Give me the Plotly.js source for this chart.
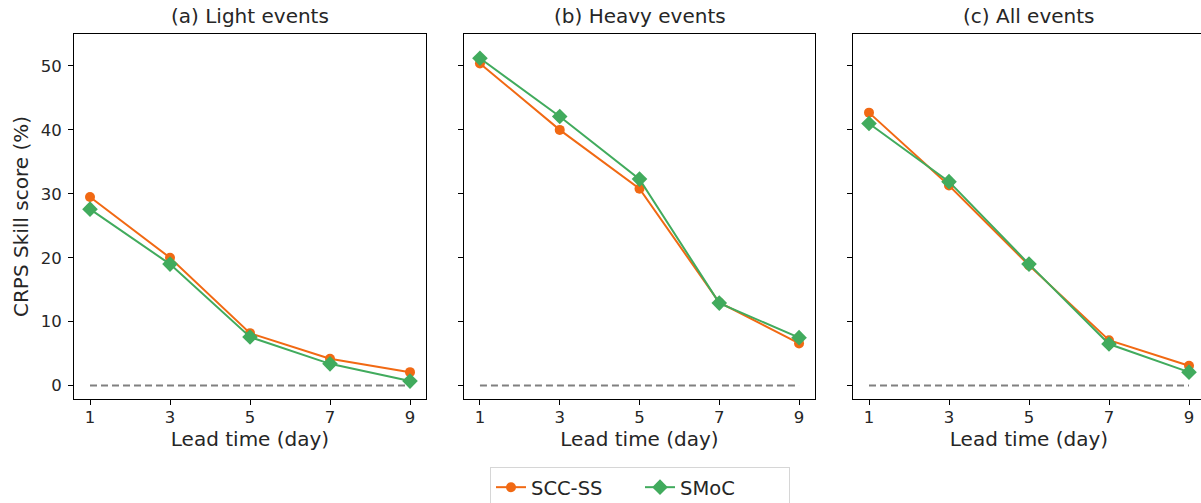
<!DOCTYPE html>
<html>
<head>
<meta charset="utf-8">
<script src="https://cdn.plot.ly/plotly-3.0.1.min.js"></script>
<style>
html,body{margin:0;padding:0;overflow:hidden;background:#fff;width:1201px;height:503px;}
#chart{width:1210px;height:503px;}
</style>
</head>
<body>
<div id="chart"></div>
<script>
const leadTimes = [1, 3, 5, 7, 9];
const panelTitles = ["(a) Light events", "(b) Heavy events", "(c) All events"];
const seriesNames = ["SCC-SS", "SMoC"];
const lightSCC = [29.5, 20.0, 8.2, 4.2, 2.1];
const lightSMoC = [27.6, 19.0, 7.6, 3.4, 0.7];
const heavySCC = [50.4, 40.0, 30.8, 13.0, 6.6];
const heavySMoC = [51.2, 42.1, 32.3, 12.9, 7.5];
const allSCC = [42.7, 31.3, 18.8, 7.1, 3.1];
const allSMoC = [41.0, 31.9, 19.0, 6.5, 2.1];
const baseline = [0, 0];
const baselineX = [1, 9];
const yTicks = [0, 10, 20, 30, 40, 50];

const orange = "#f16913";
const green = "#41ab5d";
const font = "DejaVu Sans, sans-serif";
const textColor = "#262626";
const panels = [[lightSCC, lightSMoC], [heavySCC, heavySMoC], [allSCC, allSMoC]];
const W = 1210, H = 503;
const xDomains = [[74, 426], [464, 815], [853, 1205]];
const yDom = [(H - 399) / H, (H - 34) / H];

const traces = [];
const layout = {
  width: W, height: H,
  margin: {l: 0, r: 0, t: 0, b: 0, autoexpand: false},
  paper_bgcolor: "#fff", plot_bgcolor: "#fff",
  font: {family: font, color: textColor, size: 16},
  showlegend: true,
  legend: {
    orientation: "h", x: 640 / W, xanchor: "center", y: (H - 467) / H, yanchor: "top",
    bordercolor: "#d6d6d6", borderwidth: 1, font: {size: 19.5, family: font, color: textColor},
    entrywidth: 104, tracegroupgap: 0
  },
  annotations: []
};

panels.forEach((p, i) => {
  const xa = i === 0 ? "x" : "x" + (i + 1);
  const ya = i === 0 ? "y" : "y" + (i + 1);
  traces.push({
    x: baselineX, y: baseline, xaxis: xa, yaxis: ya, mode: "lines",
    line: {color: "#808080", width: 2, dash: "7px,4px"}, showlegend: false, hoverinfo: "skip"
  });
  traces.push({
    x: leadTimes, y: p[0], xaxis: xa, yaxis: ya, mode: "lines+markers", name: seriesNames[0],
    line: {color: orange, width: 2}, marker: {symbol: "circle", size: 10, color: orange},
    showlegend: i === 0
  });
  traces.push({
    x: leadTimes, y: p[1], xaxis: xa, yaxis: ya, mode: "lines+markers", name: seriesNames[1],
    line: {color: green, width: 2}, marker: {symbol: "diamond", size: 12, color: green},
    showlegend: i === 0
  });
  const xKey = i === 0 ? "xaxis" : "xaxis" + (i + 1);
  const yKey = i === 0 ? "yaxis" : "yaxis" + (i + 1);
  layout[xKey] = {
    domain: [xDomains[i][0] / W, xDomains[i][1] / W], anchor: ya,
    range: [0.6, 9.4], tickvals: leadTimes, ticks: "outside", ticklen: 5, tickwidth: 1,
    tickcolor: "#000", showline: true, linecolor: "#000", linewidth: 1, mirror: true,
    showgrid: false, zeroline: false, ticklabelstandoff: -2,
    tickfont: {size: 16.5, family: font, color: textColor},
    title: {text: "Lead time (day)", font: {size: 20, family: font, color: textColor}, standoff: 4}
  };
  layout[yKey] = {
    domain: yDom, anchor: xa,
    range: [-2.1, 55.0], tickvals: yTicks, ticks: "outside", ticklen: 5, tickwidth: 1,
    tickcolor: "#000", showline: true, linecolor: "#000", linewidth: 1, mirror: true,
    showgrid: false, zeroline: false, showticklabels: i === 0, ticklabelstandoff: 3,
    tickfont: {size: 16.5, family: font, color: textColor}
  };
  if (i === 0) {
    layout[yKey].title = {text: "CRPS Skill score (%)", font: {size: 20, family: font, color: textColor}, standoff: 6};
  }
  layout.annotations.push({
    text: panelTitles[i], xref: "paper", yref: "paper",
    x: (xDomains[i][0] + xDomains[i][1]) / 2 / W, y: (H - 30) / H,
    xanchor: "center", yanchor: "bottom", showarrow: false,
    font: {size: 20, family: font, color: textColor}
  });
});

Plotly.newPlot("chart", traces, layout, {displayModeBar: false, staticPlot: true});
</script>
</body>
</html>
